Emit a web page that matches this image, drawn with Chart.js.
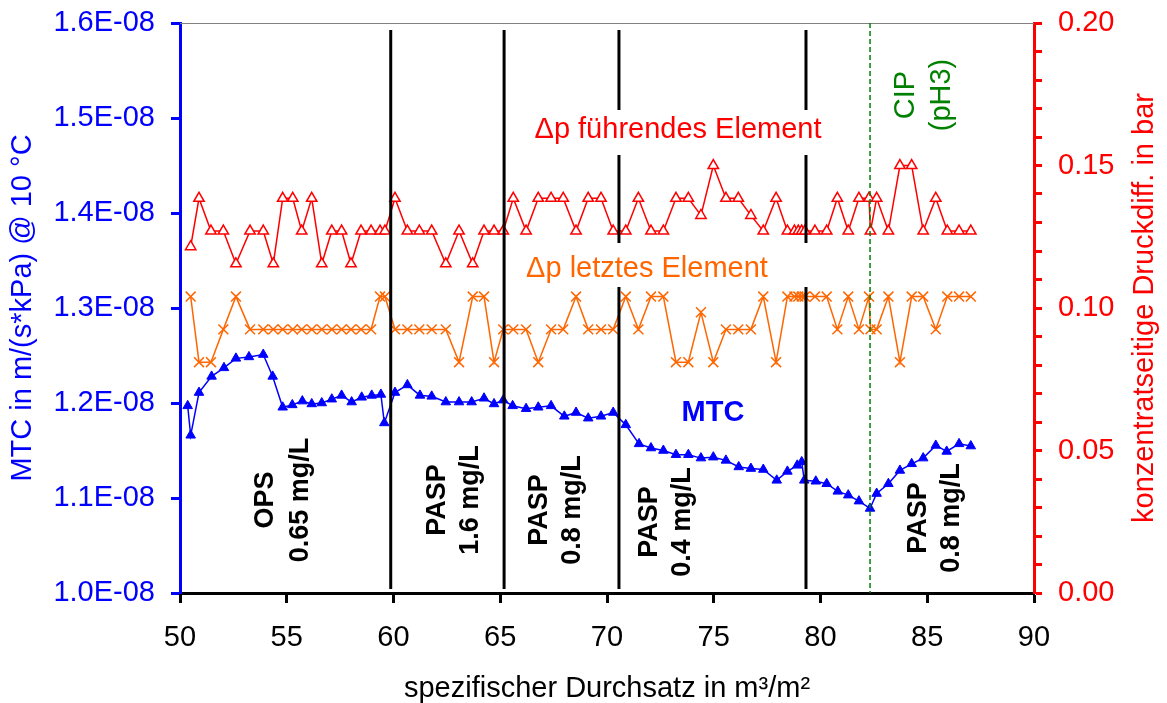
<!DOCTYPE html>
<html>
<head>
<meta charset="utf-8">
<script src="https://cdn.jsdelivr.net/npm/chart.js@4.4.0/dist/chart.umd.min.js"></script>
<style>
  html, body { margin: 0; padding: 0; background: #fff; }
  canvas { display: block; }
</style>
</head>
<body>
<canvas id="c" width="1167" height="703"></canvas>
<script>
// ---- Data ----
// Δp series share the same throughput positions
const xDp = [
  50.50, 50.89, 51.45, 52.03, 52.62, 53.28, 53.90, 54.37, 54.81, 55.28,
  55.70, 56.17, 56.64, 57.11, 57.57, 58.01, 58.48, 58.95, 59.37, 59.60,
  60.07, 60.65, 61.21, 61.79, 62.45, 63.07, 63.71, 64.24, 64.71, 65.14,
  65.61, 66.21, 66.78, 67.38, 67.95, 68.55, 69.12, 69.72, 70.29, 70.88,
  71.47, 72.06, 72.64, 73.23, 73.81, 74.40, 74.98, 75.57, 76.15, 76.74,
  77.32, 77.92, 78.45, 78.78, 78.96, 79.12, 79.27, 79.74, 80.29, 80.79,
  81.30, 81.80, 82.27, 82.34, 82.63, 83.18, 83.72, 84.27, 84.81, 85.40,
  85.94, 86.49, 87.04
];
const dpFuehrend = [
  0.1215, 0.1385, 0.127, 0.127, 0.1155, 0.127, 0.127, 0.1155, 0.1385, 0.1385,
  0.127, 0.1385, 0.1155, 0.127, 0.127, 0.1155, 0.127, 0.127, 0.127, 0.127,
  0.1385, 0.127, 0.127, 0.127, 0.1155, 0.127, 0.1155, 0.127, 0.127, 0.127,
  0.1385, 0.127, 0.1385, 0.1385, 0.1385, 0.127, 0.1385, 0.1385, 0.127, 0.127,
  0.1385, 0.127, 0.127, 0.1385, 0.1385, 0.1325, 0.150, 0.1385, 0.1385, 0.1325,
  0.127, 0.1385, 0.127, 0.127, 0.127, 0.127, 0.127, 0.127, 0.127, 0.1385,
  0.127, 0.1385, 0.1385, 0.127, 0.1385, 0.127, 0.150, 0.150, 0.127, 0.1385,
  0.127, 0.127, 0.127
];
const dpLetzt = [
  0.104, 0.081, 0.081, 0.0925, 0.104, 0.0925, 0.0925, 0.0925, 0.0925, 0.0925,
  0.0925, 0.0925, 0.0925, 0.0925, 0.0925, 0.0925, 0.0925, 0.0925, 0.104, 0.104,
  0.0925, 0.0925, 0.0925, 0.0925, 0.0925, 0.081, 0.104, 0.104, 0.081, 0.0925,
  0.0925, 0.0925, 0.081, 0.0925, 0.0925, 0.104, 0.0925, 0.0925, 0.0925, 0.104,
  0.0925, 0.104, 0.104, 0.081, 0.081, 0.0985, 0.081, 0.0925, 0.0925, 0.0925,
  0.104, 0.081, 0.104, 0.104, 0.104, 0.104, 0.104, 0.104, 0.104, 0.0925,
  0.104, 0.0925, 0.104, 0.0925, 0.0925, 0.104, 0.081, 0.104, 0.104, 0.0925,
  0.104, 0.104, 0.104
];
const xMtc = [
  50.36, 50.50, 50.89, 51.48, 52.06, 52.62, 53.23, 53.90, 54.34, 54.81,
  55.26, 55.73, 56.17, 56.64, 57.11, 57.57, 58.04, 58.51, 58.98, 59.41,
  59.57, 60.07, 60.65, 61.24, 61.79, 62.45, 63.07, 63.66, 64.24, 64.71,
  65.14, 65.58, 66.21, 66.78, 67.38, 68.00, 68.55, 69.12, 69.72, 70.29,
  70.88, 71.50, 72.06, 72.64, 73.23, 73.81, 74.40, 74.98, 75.57, 76.17,
  76.74, 77.32, 77.95, 78.45, 78.91, 79.12, 79.24, 79.78, 80.29, 80.81,
  81.30, 81.80, 82.32, 82.63, 83.18, 83.72, 84.27, 84.81, 85.40, 85.91,
  86.49, 87.04
];
const mtc = [
  1.197e-8, 1.166e-8, 1.211e-8, 1.228e-8, 1.237e-8, 1.247e-8, 1.2485e-8, 1.251e-8, 1.228e-8, 1.1955e-8,
  1.198e-8, 1.202e-8, 1.199e-8, 1.200e-8, 1.204e-8, 1.208e-8, 1.201e-8, 1.206e-8, 1.208e-8, 1.209e-8,
  1.179e-8, 1.211e-8, 1.219e-8, 1.208e-8, 1.207e-8, 1.201e-8, 1.201e-8, 1.201e-8, 1.205e-8, 1.199e-8,
  1.203e-8, 1.197e-8, 1.194e-8, 1.1955e-8, 1.197e-8, 1.186e-8, 1.190e-8, 1.184e-8, 1.186e-8, 1.190e-8,
  1.177e-8, 1.157e-8, 1.1526e-8, 1.150e-8, 1.1456e-8, 1.1456e-8, 1.142e-8, 1.143e-8, 1.1396e-8, 1.1327e-8,
  1.131e-8, 1.130e-8, 1.1186e-8, 1.128e-8, 1.1344e-8, 1.138e-8, 1.1186e-8, 1.1176e-8, 1.115e-8, 1.107e-8,
  1.103e-8, 1.0967e-8, 1.089e-8, 1.1047e-8, 1.115e-8, 1.129e-8, 1.136e-8, 1.142e-8, 1.1553e-8, 1.149e-8,
  1.157e-8, 1.1547e-8
];
// phase boundaries (throughput) and CIP position
const phaseBounds = [59.87, 65.18, 70.56, 79.32];
const cipAt = [82.32];
const phaseLabels = [
  { lines: ['OPS', '0.65 mg/L'], x: [273, 308], cy: 500 },
  { lines: ['PASP', '1.6 mg/L'], x: [445, 478], cy: 500 },
  { lines: ['PASP', '0.8 mg/L'], x: [547, 580], cy: 510 },
  { lines: ['PASP', '0.4 mg/L'], x: [657, 690], cy: 522 },
  { lines: ['PASP', '0.8 mg/L'], x: [926, 959], cy: 518 }
];

const FONT = '"Liberation Sans", Arial, sans-serif';
const toPts = (xs, ys) => xs.map((x, i) => ({ x: x, y: ys[i] }));

const decor = {
  id: 'decor',
  beforeDraw(chart) {
    const c = chart.ctx;
    c.save();
    c.fillStyle = '#fff';
    c.fillRect(0, 0, chart.width, chart.height);
    c.restore();
  },
  afterDatasetsDraw(chart) {
    const c = chart.ctx;
    const xs = chart.scales.x;
    const a = chart.chartArea;
    c.save();
    // top border
    c.strokeStyle = '#808080';
    c.lineWidth = 1;
    c.beginPath();
    c.moveTo(a.left, a.top + 0.5);
    c.lineTo(a.right, a.top + 0.5);
    c.stroke();
    // phase separators
    c.strokeStyle = '#000';
    c.lineWidth = 3;
    phaseBounds.forEach(v => {
      const px = xs.getPixelForValue(v);
      c.beginPath();
      c.moveTo(px, a.top + 7);
      c.lineTo(px, a.bottom - 4);
      c.stroke();
    });
    // CIP dashed
    c.strokeStyle = '#008000';
    c.lineWidth = 1.5;
    c.setLineDash([5, 3]);
    cipAt.forEach(v => {
      const px = xs.getPixelForValue(v);
      c.beginPath();
      c.moveTo(px, a.top);
      c.lineTo(px, a.bottom);
      c.stroke();
    });
    c.setLineDash([]);

    // series labels with white boxes
    c.fillStyle = '#fff';
    c.fillRect(522, 110, 312, 45);
    c.fillRect(515, 243, 297, 44);
    c.font = '29px ' + FONT;
    c.textAlign = 'center';
    c.textBaseline = 'alphabetic';
    c.fillStyle = '#FF0000';
    c.fillText('\u0394p f\u00fchrendes Element', 678, 138);
    c.fillStyle = '#FF6600';
    c.fillText('\u0394p letztes Element', 647, 277);
    c.font = 'bold 29px ' + FONT;
    c.fillStyle = '#0000FF';
    c.fillText('MTC', 713, 421);

    // phase labels (rotated)
    c.fillStyle = '#000';
    c.font = 'bold 27px ' + FONT;
    phaseLabels.forEach(p => {
      p.lines.forEach((t, i) => {
        c.save();
        c.translate(p.x[i], p.cy);
        c.rotate(-Math.PI / 2);
        c.fillText(t, 0, 0);
        c.restore();
      });
    });
    // CIP label
    c.fillStyle = '#008000';
    c.font = '29px ' + FONT;
    [['CIP', 914], ['(pH3)', 950]].forEach(([t, bx]) => {
      c.save();
      c.translate(bx, 95);
      c.rotate(-Math.PI / 2);
      c.fillText(t, 0, 0);
      c.restore();
    });

    // axis titles
    c.font = '29px ' + FONT;
    c.fillStyle = '#0000FF';
    c.save();
    c.translate(31, (a.top + a.bottom) / 2);
    c.rotate(-Math.PI / 2);
    c.fillText('MTC in m/(s*kPa) @ 10 \u00b0C', 0, 0);
    c.restore();
    c.fillStyle = '#FF0000';
    c.save();
    c.translate(1153, (a.top + a.bottom) / 2);
    c.rotate(-Math.PI / 2);
    c.fillText('konzentratseitige Druckdiff. in bar', 0, 0);
    c.restore();
    c.fillStyle = '#000';
    c.fillText('spezifischer Durchsatz in m\u00b3/m\u00b2', (a.left + a.right) / 2, 697);
    c.restore();
  }
};

function fixY(width) {
  return function (s) {
    s.width = width;
    s.paddingTop = 0;
    s.paddingBottom = 0;
  };
}

new Chart(document.getElementById('c'), {
  type: 'line',
  data: {
    datasets: [
      {
        label: '\u0394p f\u00fchrendes Element',
        data: toPts(xDp, dpFuehrend),
        yAxisID: 'y2',
        borderColor: '#FF0000',
        borderWidth: 1.5,
        pointStyle: 'triangle',
        pointRadius: 6,
        pointBorderWidth: 1.5,
        pointBorderColor: '#FF0000',
        pointBackgroundColor: '#FFFFFF',
        tension: 0
      },
      {
        label: '\u0394p letztes Element',
        data: toPts(xDp, dpLetzt),
        yAxisID: 'y2',
        borderColor: '#FF6600',
        borderWidth: 1.5,
        pointStyle: 'crossRot',
        pointRadius: 7,
        pointBorderWidth: 1.5,
        pointBorderColor: '#FF6600',
        tension: 0
      },
      {
        label: 'MTC',
        data: toPts(xMtc, mtc),
        yAxisID: 'y',
        borderColor: '#0000FF',
        borderWidth: 1.5,
        pointStyle: 'triangle',
        pointRadius: 5.5,
        pointBorderWidth: 1,
        pointBorderColor: '#0000FF',
        pointBackgroundColor: '#0000FF',
        tension: 0
      }
    ]
  },
  options: {
    responsive: false,
    animation: false,
    devicePixelRatio: 1,
    layout: { padding: { top: 23, left: 0, right: 0, bottom: 0 } },
    plugins: { legend: { display: false }, tooltip: { enabled: false } },
    scales: {
      x: {
        type: 'linear', position: 'bottom', min: 50, max: 90,
        ticks: { stepSize: 5, color: '#000', font: { family: FONT, size: 29 }, padding: 18, maxRotation: 0 },
        grid: { drawOnChartArea: false, drawTicks: true, tickLength: 10, tickWidth: 3, color: '#000' },
        border: { color: '#000', width: 3 },
        afterFit(s) { s.height = 110; s.paddingLeft = 0; s.paddingRight = 0; }
      },
      y: {
        position: 'left', min: 1.0e-8, max: 1.6e-8,
        ticks: {
          stepSize: 0.1e-8, color: '#0000FF', font: { family: FONT, size: 29 }, padding: 16,
          callback: v => (v * 1e8).toFixed(1) + 'E-08'
        },
        grid: { drawOnChartArea: false, tickLength: 9, tickWidth: 3, color: '#0000FF' },
        border: { color: '#0000FF', width: 3 },
        afterFit: fixY(180)
      },
      y2: {
        position: 'right', min: 0, max: 0.2,
        ticks: {
          stepSize: 0.01, autoSkip: false, color: '#FF0000', font: { family: FONT, size: 29 }, padding: 16,
          callback: v => (Math.round(v * 100) % 5 === 0 ? v.toFixed(2) : '')
        },
        grid: { drawOnChartArea: false, tickLength: 8, tickWidth: 3, color: '#FF0000' },
        border: { color: '#FF0000', width: 3 },
        afterFit: fixY(133)
      }
    }
  },
  plugins: [decor]
});
</script>
</body>
</html>
